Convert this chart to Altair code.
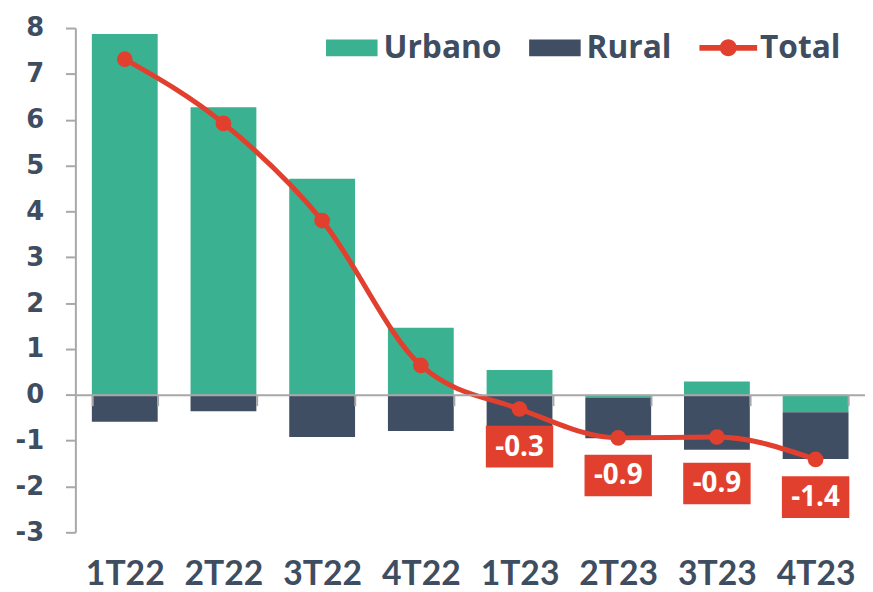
import altair as alt
import pandas as pd

# ---- data ----
quarters = ["1T22", "2T22", "3T22", "4T22", "1T23", "2T23", "3T23", "4T23"]
urbano = [7.87, 6.27, 4.71, 1.46, 0.54, -0.07, 0.29, -0.38]
rural = [-0.59, -0.36, -0.92, -0.79, -0.70, -0.88, -1.20, -1.02]
total = [7.32, 5.92, 3.80, 0.64, -0.31, -0.94, -0.92, -1.41]
total_labels = ["", "", "", "", "-0.3", "-0.9", "-0.9", "-1.4"]
series = ["Urbano", "Rural", "Total"]
y_ticks = [-3, -2, -1, 0, 1, 2, 3, 4, 5, 6, 7, 8]

# ---- styles ----
GREEN = "#3AB190"
DARK = "#404E63"
RED = "#E2402F"
TEXT = "#3F4D61"
GRAY = "#A8A8A8"
XFONT = "Liberation Sans Narrow, Lato, sans-serif"
LFONT = "Open Sans"

W, H = 797, 509
Y_MIN, Y_MAX = -3, 8
zero_offset = -(0 - Y_MIN) / (Y_MAX - Y_MIN) * H

RECT = "M-1,-0.327H1V0.327H-1Z"
DOTLINE = ("M-1.12,-0.115H1.12V0.115H-1.12Z "
           "M-0.33,0A0.33,0.33 0 1 1 0.33,0A0.33,0.33 0 1 1 -0.33,0Z")
BOX = "M-1.62,-1H1.62V1H-1.62Z"
BOX_DY_DEFAULT = 38
BOX_DY_SPECIAL = {"3T23": 47}

bars_df = pd.DataFrame({
    "q": quarters * 2,
    "serie": ["Urbano"] * len(quarters) + ["Rural"] * len(quarters),
    "v": urbano + rural,
    "k": [0] * len(quarters) + [1] * len(quarters),
})
tot_df = pd.DataFrame({"q": quarters, "v": total, "lab": total_labels,
                       "serie": ["Total"] * len(quarters)})

color_scale = alt.Scale(domain=series, range=[GREEN, DARK, RED])
shape_scale = alt.Scale(domain=series, range=[RECT, RECT, DOTLINE])

legend = alt.Legend(
    title=None, orient="none", legendX=253, legendY=-6, direction="horizontal",
    labelFont=LFONT, labelFontWeight="bold", labelFontSize=32, labelColor=TEXT,
    symbolSize=2704, symbolStrokeWidth=0, symbolOpacity=1, labelOffset=6,
    columnPadding=27, labelLimit=300,
)

x_enc = alt.X(
    "q:N", sort=quarters,
    scale=alt.Scale(paddingInner=0.333, paddingOuter=0.167),
    axis=alt.Axis(
        title=None, domainColor=GRAY, domainWidth=2, tickColor=GRAY, tickWidth=2,
        tickSize=11, tickBand="extent", offset=zero_offset, labelPadding=153,
        labelFont=XFONT, labelFontSize=34, labelFontWeight="bold",
        labelColor=TEXT, labelAngle=0, zindex=1,
    ),
)
y_scale = alt.Scale(domain=[Y_MIN, Y_MAX], nice=False, zero=False)
y_enc = alt.Y(
    "v:Q", stack="zero", scale=y_scale,
    axis=alt.Axis(
        values=y_ticks, title=None, grid=False, domainColor=GRAY, domainWidth=2,
        tickColor=GRAY, tickWidth=2, tickSize=10, labelFont="DejaVu Sans",
        labelFontWeight="bold", labelFontSize=26, labelColor=TEXT, labelPadding=22,
        labelExpr="'' + datum.value",
    ),
)

bars = alt.Chart(bars_df).mark_bar(strokeWidth=0).encode(
    x=x_enc,
    y=y_enc,
    color=alt.Color("serie:N", scale=color_scale, legend=legend),
    order=alt.Order("k:Q"),
)

y_plain = alt.Y("v:Q", scale=y_scale)
x_plain = alt.X("q:N", sort=quarters)

line = alt.Chart(tot_df).mark_line(
    interpolate="monotone", color=RED, strokeWidth=5
).encode(x=x_plain, y=y_plain)

dots = alt.Chart(tot_df).mark_circle(color=RED, size=250, opacity=1).encode(
    x=x_plain, y=y_plain)

special = list(BOX_DY_SPECIAL.keys())
label_layers = []
groups = [("datum.lab != '' && indexof(%s, datum.q) < 0" % special, BOX_DY_DEFAULT)]
for q, dy in BOX_DY_SPECIAL.items():
    groups.append(("datum.lab != '' && datum.q == '%s'" % q, dy))

for flt, dy in groups:
    base = alt.Chart(tot_df).transform_filter(flt)
    label_layers.append(base.mark_point(
        shape=BOX, filled=True, size=1764, color=RED, opacity=1,
        strokeWidth=0, yOffset=dy,
    ).encode(x=x_plain, y=y_plain))
    label_layers.append(base.mark_text(
        color="white", font=LFONT, fontWeight="bold", fontSize=28,
        baseline="middle", dy=dy + 1,
    ).encode(x=x_plain, y=y_plain, text="lab:N"))

legend_layer = alt.Chart(tot_df).transform_filter("false").mark_point(
    filled=True
).encode(
    x=x_plain, y=y_plain,
    color=alt.Color("serie:N", scale=color_scale, legend=legend),
    shape=alt.Shape("serie:N", scale=shape_scale, legend=legend),
)

chart = alt.layer(bars, line, dots, *label_layers, legend_layer).properties(
    width=W, height=H,
    padding={"left": 68, "top": 17.5, "right": 0, "bottom": 56},
    autosize="none",
    background="white",
).configure_view(stroke=None)

chart.save("out.html", embed_options={"renderer": "svg", "actions": False})
